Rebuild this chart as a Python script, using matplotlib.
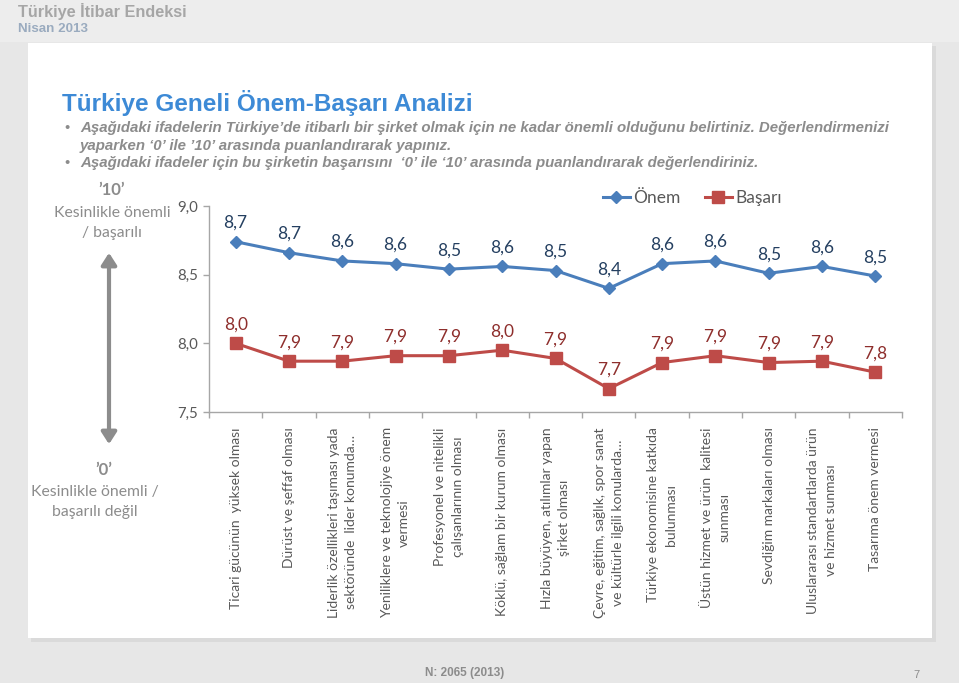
import matplotlib
matplotlib.use("Agg")
import matplotlib.pyplot as plt
from matplotlib.patches import Rectangle, FancyArrowPatch
from matplotlib.ticker import FixedLocator, FuncFormatter
import numpy as np

categories = [
    "Ticari gücünün  yüksek olması",
    "Dürüst ve şeffaf olması",
    "Liderlik özellikleri taşıması yada\nsektöründe  lider konumda…",
    "Yeniliklere ve teknolojiye önem\nvermesi",
    "Profesyonel ve nitelikli\nçalışanlarının olması",
    "Köklü, sağlam bir kurum olması",
    "Hızla büyüyen, atılımlar yapan\nşirket olması",
    "Çevre, eğitim, sağlık, spor sanat\nve kültürle ilgili konularda…",
    "Türkiye ekonomisine katkıda\nbulunması",
    "Üstün hizmet ve ürün  kalitesi\nsunması",
    "Sevdiğim markaları olması",
    "Uluslararası standartlarda ürün\nve hizmet sunması",
    "Tasarıma önem vermesi",
]
onem = [8.74, 8.66, 8.60, 8.58, 8.54, 8.56, 8.53, 8.40, 8.58, 8.60, 8.51, 8.56, 8.49]
basari = [8.00, 7.87, 7.87, 7.91, 7.91, 7.95, 7.89, 7.67, 7.86, 7.91, 7.86, 7.87, 7.79]
yticks = [7.5, 8.0, 8.5, 9.0]
series_names = ["Önem", "Başarı"]

W, H = 959, 683
fig = plt.figure(figsize=(W / 100, H / 100), dpi=100)
fig.patch.set_facecolor("#e7e7e7")

def px(x, y):
    return x / W, 1 - y / H

# header band
fig.patches.append(Rectangle((0, 1 - 42 / H), 1, 42 / H, transform=fig.transFigure,
                             facecolor="#ededed", edgecolor="none", zorder=0))
# panel shadow + panel
fig.patches.append(Rectangle(px(31, 642), (905 - 0) / W, (642 - 46) / H, transform=fig.transFigure,
                             facecolor="#dadada", edgecolor="none", zorder=0.5))
fig.patches.append(Rectangle(px(28, 638), (932 - 28) / W, (638 - 43) / H, transform=fig.transFigure,
                             facecolor="white", edgecolor="none", zorder=1))

SANS = ["Liberation Sans", "DejaVu Sans"]
CHART = ["Lato", "DejaVu Sans"]

fig.text(*px(18, 12), "Türkiye İtibar Endeksi", family=SANS, weight="bold", fontsize=11.7,
         color="#a6a6a6", ha="left", va="center")
fig.text(*px(18, 29), "Nisan 2013", family=SANS, weight="bold", fontsize=9.6,
         color="#9aabbf", ha="left", va="center")

fig.text(*px(62, 103), "Türkiye Geneli Önem-Başarı Analizi", family=SANS, weight="bold",
         fontsize=17.5, color="#3d8ad6", ha="left", va="center", zorder=3)
bullet_lines = [
    (True, "Aşağıdaki ifadelerin Türkiye’de itibarlı bir şirket olmak için ne kadar önemli olduğunu belirtiniz. Değerlendirmenizi", 128),
    (False, "yaparken ‘0’ ile ’10’ arasında puanlandırarak yapınız.", 146),
    (True, "Aşağıdaki ifadeler için bu şirketin başarısını  ‘0’ ile ‘10’ arasında puanlandırarak değerlendiriniz.", 163),
]
for b, t, y in bullet_lines:
    if b:
        fig.text(*px(64, y), "•", family=SANS, fontsize=10.5, color="#8c8c8c", ha="left", va="center")
    fig.text(*px(80, y), t, family=SANS, weight="bold", style="italic", fontsize=10.8,
             color="#8c8c8c", ha="left", va="center")

# left annotation
fig.text(*px(112, 190), "’10’", family=CHART, weight="bold", fontsize=12, color="#8c8c8c",
         ha="center", va="center")
fig.text(*px(112, 213), "Kesinlikle önemli", family=CHART, fontsize=11.3, color="#8c8c8c",
         ha="center", va="center")
fig.text(*px(112, 233), "/ başarılı", family=CHART, fontsize=11.3, color="#8c8c8c",
         ha="center", va="center")
fig.text(*px(104, 470), "’0’", family=CHART, weight="bold", fontsize=12, color="#8c8c8c",
         ha="center", va="center")
fig.text(*px(95, 492), "Kesinlikle önemli /", family=CHART, fontsize=11.3, color="#8c8c8c",
         ha="center", va="center")
fig.text(*px(95, 512), "başarılı değil", family=CHART, fontsize=11.3, color="#8c8c8c",
         ha="center", va="center")
arr = FancyArrowPatch(px(109, 250), px(109, 447), transform=fig.transFigure,
                      arrowstyle="<|-|>,head_length=7,head_width=4.5", color="#8c8c8c",
                      linewidth=3, zorder=3)
fig.patches.append(arr)

fig.text(*px(425, 673), "N: 2065 (2013)", family=SANS, weight="bold", fontsize=8.5,
         color="#8c8c8c", ha="left", va="center")
fig.text(*px(916, 675), "7", family=SANS, fontsize=8, color="#8c8c8c", ha="center", va="center")

# chart
l, r, t, b = 209, 902, 206, 412
ax = fig.add_axes([l / W, 1 - b / H, (r - l) / W, (b - t) / H], zorder=5)
ax.patch.set_alpha(0)
x = np.arange(len(categories))
blue, red = "#4a7ebb", "#be4b48"
ax.plot(x, onem, color=blue, lw=2.2, marker="D", ms=6.5, label=series_names[0], clip_on=False, zorder=4)
ax.plot(x, basari, color=red, lw=2.2, marker="s", ms=8, label=series_names[1], clip_on=False, zorder=4)
for xi, v in zip(x, onem):
    ax.annotate(f"{v:.1f}".replace(".", ","), (xi, v), xytext=(0, 10), textcoords="offset points",
                ha="center", va="baseline", family=CHART, fontsize=12.5, color="#243f60")
for xi, v in zip(x, basari):
    ax.annotate(f"{v:.1f}".replace(".", ","), (xi, v), xytext=(0, 10), textcoords="offset points",
                ha="center", va="baseline", family=CHART, fontsize=12.5, color="#8e2e2c")

ax.set_xlim(-0.5, len(categories) - 0.5)
ax.set_ylim(7.5, 9.0)
ax.yaxis.set_major_locator(FixedLocator(yticks))
ax.yaxis.set_major_formatter(FuncFormatter(lambda v, p: f"{v:.1f}".replace(".", ",")))
ax.xaxis.set_major_locator(FixedLocator(np.arange(-0.5, len(categories), 1.0)))
ax.xaxis.set_major_formatter(FuncFormatter(lambda v, p: ""))
ax.xaxis.set_minor_locator(FixedLocator(x))
ax.set_xticklabels(categories, minor=True)
ax.tick_params(axis="x", which="major", length=4, width=1, color="#a6a6a6", direction="out")
ax.tick_params(axis="x", which="minor", length=0, pad=11)
ax.tick_params(axis="y", length=4, width=1, color="#a6a6a6", pad=4, labelcolor="#595959",
               labelsize=10.8)
for lab in ax.get_yticklabels():
    lab.set_family(CHART)
for lab in ax.get_xticklabels(minor=True):
    lab.set_family(CHART)
    lab.set_rotation(90)
    lab.set_fontsize(10)
    lab.set_color("#595959")
    lab.set_va("top")
    lab.set_ha("center")
    lab.set_multialignment("center")
    lab.set_linespacing(1.55)
for s in ["top", "right"]:
    ax.spines[s].set_visible(False)
for s in ["left", "bottom"]:
    ax.spines[s].set_color("#a6a6a6")
    ax.spines[s].set_linewidth(1)

leg = fig.legend(loc="center", bbox_to_anchor=px(692, 198), ncol=2, frameon=False,
                 prop={"family": CHART, "size": 12.5}, handlelength=1.6, handletextpad=0.15,
                 columnspacing=1.4, labelcolor="#595959")

fig.savefig("out.png", dpi=100, facecolor=fig.get_facecolor())
